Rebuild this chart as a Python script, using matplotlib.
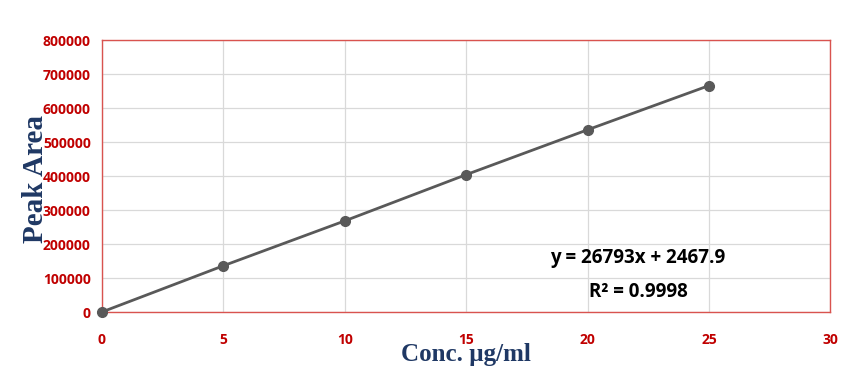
import matplotlib
matplotlib.use('Agg')
import matplotlib.pyplot as plt
from matplotlib.ticker import MultipleLocator

conc = [0, 5, 10, 15, 20, 25]
peak_area = [0, 136000, 268000, 404000, 536000, 666000]
equation = 'y = 26793x + 2467.9'
r_squared = 'R² = 0.9998'

TICK_RED = '#c00000'
LABEL_NAVY = '#1f3864'

fig = plt.figure(figsize=(8.56, 3.71), dpi=100)
ax = fig.add_axes([0.119, 0.159, 0.851, 0.733])

ax.plot(conc, peak_area, color='#595959', linewidth=2.0,
        marker='o', markersize=7, markerfacecolor='#595959',
        markeredgecolor='#595959', zorder=3, clip_on=False)

ax.set_xlim(0, 30)
ax.set_ylim(0, 800000)
ax.xaxis.set_major_locator(MultipleLocator(5))
ax.yaxis.set_major_locator(MultipleLocator(100000))
ax.grid(True, color='#d9d9d9', linewidth=0.9)
ax.set_axisbelow(True)

for side in ['left', 'right', 'top', 'bottom']:
    ax.spines[side].set_color('#d9534f')
    ax.spines[side].set_linewidth(1.0)

ax.tick_params(length=0, labelcolor=TICK_RED)
ax.tick_params(axis='x', pad=15)
ax.tick_params(axis='y', pad=8)
for lbl in ax.get_xticklabels() + ax.get_yticklabels():
    lbl.set_fontfamily('Open Sans')
    lbl.set_fontweight('bold')
    lbl.set_fontsize(10)

ax.set_xlabel('Conc. µg/ml', family='Liberation Serif', fontweight='bold',
              fontsize=18, color=LABEL_NAVY)
ax.xaxis.set_label_coords(0.5, -0.115)
ax.set_ylabel('Peak Area', family='Liberation Serif', fontweight='bold',
              fontsize=21, color=LABEL_NAVY)
ax.yaxis.set_label_coords(-0.072, 0.49)

ax.text(0.736, 0.2, equation, transform=ax.transAxes, ha='center', va='center',
        family='Open Sans', fontweight='bold', fontsize=13.5, color='black')
ax.text(0.736, 0.075, r_squared, transform=ax.transAxes, ha='center', va='center',
        family='Open Sans', fontweight='bold', fontsize=13.5, color='black')

fig.savefig('out.png', dpi=100)
